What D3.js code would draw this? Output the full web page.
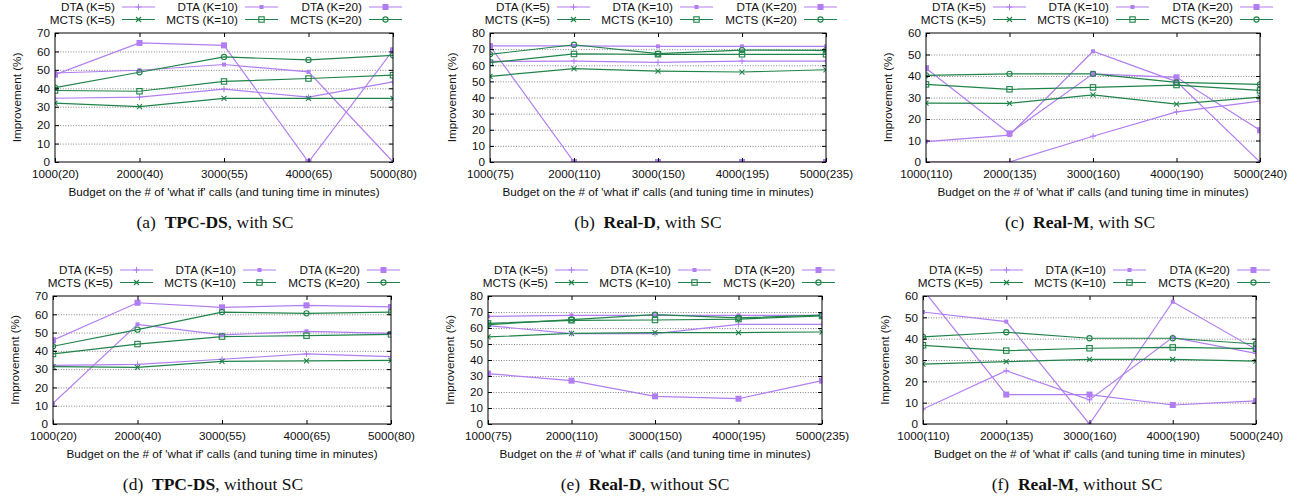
<!DOCTYPE html>
<html>
<head>
<meta charset="utf-8">
<title>Improvement vs what-if budget</title>
<style>
  body { margin: 0; background: #fff; }
  svg text { font-family: "Liberation Sans", Arial, sans-serif; fill: #111; }
  .caption text, text.caption { font-family: "Liberation Serif", "Times New Roman", serif; }
</style>
</head>
<body>
<svg id="svg" width="1299" height="500"></svg>
<script src="https://d3js.org/d3.v7.min.js"></script>
<script>
// ---- data ----
const seriesNames = ["DTA (K=5)", "DTA (K=10)", "DTA (K=20)", "MCTS (K=5)", "MCTS (K=10)", "MCTS (K=20)"]
const budgetsTpcds = ["1000(20)", "2000(40)", "3000(55)", "4000(65)", "5000(80)"]
const budgetsRealD = ["1000(75)", "2000(110)", "3000(150)", "4000(195)", "5000(235)"]
const budgetsRealM = ["1000(110)", "2000(135)", "3000(160)", "4000(190)", "5000(240)"]

// one row per series, in the order of seriesNames
const tpcdsWithSC = [
  [34.6, 35.2, 39.5, 35.2, 43.5],
  [48.3, 49.8, 52.9, 48.9, 0],
  [47.4, 64.6, 63.3, 0, 60.6],
  [31.9, 30.1, 34.5, 34.5, 34.5],
  [38.8, 38.4, 43.7, 45.3, 47.1],
  [40.4, 48.7, 57.0, 55.4, 57.9]
]
const realDWithSC = [
  [62.4, 62.6, 61.8, 62.6, 62.6],
  [72.0, 72.0, 71.7, 71.7, 71.7],
  [71.9, 0, 0, 0, 0],
  [53.1, 57.9, 56.4, 55.8, 57.2],
  [61.6, 67.0, 66.8, 66.8, 66.8],
  [66.8, 72.7, 67.2, 69.4, 69.2]
]
const realMWithSC = [
  [0, 0, 12.0, 23.3, 28.3],
  [9.5, 12.5, 51.5, 37.4, 0],
  [43.6, 13.3, 41.0, 39.4, 14.8],
  [27.4, 27.3, 31.2, 26.9, 30.2],
  [36.1, 33.8, 34.7, 35.8, 33.3],
  [40.3, 41.0, 41.0, 37.0, 36.1]
]
const tpcdsWithoutSC = [
  [32.1, 32.6, 35.4, 38.3, 36.8],
  [11.3, 54.5, 48.7, 50.7, 49.6],
  [45.8, 66.3, 63.8, 64.9, 64.0],
  [31.4, 31.0, 34.3, 34.5, 34.8],
  [38.3, 43.7, 47.8, 48.3, 49.0],
  [42.5, 51.6, 61.2, 60.5, 61.2]
]
const realDWithoutSC = [
  [61.5, 56.5, 56.5, 62.3, 62.3],
  [67.3, 67.9, 67.9, 67.9, 67.9],
  [31.5, 27.1, 17.3, 15.8, 27.1],
  [54.4, 56.7, 57.1, 57.1, 57.5],
  [62.9, 64.8, 65.0, 65.6, 67.5],
  [62.1, 65.2, 68.3, 66.3, 68.1]
]
const realMWithoutSC = [
  [7.0, 25.0, 11.3, 40.6, 33.1],
  [52.5, 48.0, 0, 57.3, 35.0],
  [63.0, 13.8, 13.8, 8.9, 10.8],
  [28.1, 29.2, 30.3, 30.3, 29.5],
  [36.9, 34.4, 35.5, 35.9, 35.3],
  [40.8, 43.0, 40.2, 40.2, 37.5]
]

const yMaxes = [70, 80, 60, 70, 80, 60]
const captionLetters = ["(a)", "(b)", "(c)", "(d)", "(e)", "(f)"]
const captionNames = ["TPC-DS", "Real-D", "Real-M", "TPC-DS", "Real-D", "Real-M"]
const captionRests = [", with SC", ", with SC", ", with SC", ", without SC", ", without SC", ", without SC"]

// ---- layout ----
const panels = [
  { x0: 55, x1: 393, y0: 33, y1: 162, cx: 215, budgets: budgetsTpcds, values: tpcdsWithSC },
  { x0: 490, x1: 826, y0: 33, y1: 162, cx: 648, budgets: budgetsRealD, values: realDWithSC },
  { x0: 926, x1: 1260, y0: 33, y1: 162, cx: 1080, budgets: budgetsRealM, values: realMWithSC },
  { x0: 53, x1: 391, y0: 296, y1: 424, cx: 213, budgets: budgetsTpcds, values: tpcdsWithoutSC },
  { x0: 488, x1: 822, y0: 296, y1: 424, cx: 645, budgets: budgetsRealD, values: realDWithoutSC },
  { x0: 923, x1: 1256, y0: 296, y1: 424, cx: 1077, budgets: budgetsRealM, values: realMWithoutSC }
]

const purple = "#b17df2"
const green = "#1f8449"
const colors = [purple, purple, purple, green, green, green]
const markers = ["plus", "smallsq", "bigsq", "cross", "opensq", "circle"]

const svg = d3.select('#svg')
const fontSize = 11.7

function drawMarker(g, type, x, y, color) {
  if (type === "plus") {
    g.append('path').attr('d', `M${x - 3},${y}H${x + 3}M${x},${y - 3}V${y + 3}`)
      .attr('stroke', color).attr('stroke-width', 1)
  } else if (type === "cross") {
    g.append('path').attr('d', `M${x - 2.5},${y - 2.5}L${x + 2.5},${y + 2.5}M${x - 2.5},${y + 2.5}L${x + 2.5},${y - 2.5}`)
      .attr('stroke', color).attr('stroke-width', 1.1)
  } else if (type === "smallsq") {
    g.append('rect').attr('x', x - 2).attr('y', y - 2).attr('width', 4).attr('height', 4).attr('fill', color)
  } else if (type === "bigsq") {
    g.append('rect').attr('x', x - 3).attr('y', y - 3).attr('width', 6).attr('height', 6).attr('fill', color)
  } else if (type === "opensq") {
    g.append('rect').attr('x', x - 2.7).attr('y', y - 2.7).attr('width', 5.4).attr('height', 5.4)
      .attr('fill', 'none').attr('stroke', color).attr('stroke-width', 1.1)
  } else if (type === "circle") {
    g.append('circle').attr('cx', x).attr('cy', y).attr('r', 2.6)
      .attr('fill', 'none').attr('stroke', color).attr('stroke-width', 1.1)
  }
}

panels.forEach((p, pi) => {
  const g = svg.append('g')
  const xscale = d3.scalePoint().domain(p.budgets).range([p.x0, p.x1])
  const yscale = d3.scaleLinear().domain([0, yMaxes[pi]]).range([p.y1, p.y0])
  const w = p.x1 - p.x0
  const h = p.y1 - p.y0

  // dotted grid
  const gridTicks = yscale.ticks(yMaxes[pi] / 10).filter(t => t > 0 && t < yMaxes[pi])
  g.append('g')
    .attr('transform', `translate(${p.x0},0)`)
    .call(d3.axisLeft(yscale).tickValues(gridTicks).tickSize(-w).tickFormat(''))
    .call(a => a.select('.domain').remove())
    .call(a => a.selectAll('line').attr('stroke', '#666').attr('stroke-width', 0.8).attr('stroke-dasharray', '1,1.6'))

  // clip path for the data
  const clipId = 'clip' + pi
  svg.append('clipPath').attr('id', clipId)
    .append('rect').attr('x', p.x0).attr('y', p.y0).attr('width', w).attr('height', h)

  const line = d3.line().x((d, i) => xscale(p.budgets[i])).y(d => yscale(d))
  const dataG = g.append('g').attr('clip-path', `url(#${clipId})`)
  p.values.forEach((vals, si) => {
    dataG.append('path').datum(vals)
      .attr('d', line)
      .attr('fill', 'none')
      .attr('stroke', colors[si])
      .attr('stroke-width', 1.2)
  })
  p.values.forEach((vals, si) => {
    vals.forEach((v, i) => drawMarker(dataG, markers[si], xscale(p.budgets[i]), yscale(v), colors[si]))
  })

  // border
  g.append('rect').attr('x', p.x0).attr('y', p.y0).attr('width', w).attr('height', h)
    .attr('fill', 'none').attr('stroke', '#000').attr('stroke-width', 1)

  // axes with inward ticks, mirrored
  const styleAxis = a => {
    a.select('.domain').remove()
    a.selectAll('line').attr('stroke', '#000')
    a.selectAll('text').style('font-size', fontSize + 'px').style('font-family', '"Liberation Sans", Arial, sans-serif').attr('fill', '#111')
  }
  g.append('g').attr('transform', `translate(${p.x0},0)`)
    .call(d3.axisLeft(yscale).ticks(yMaxes[pi] / 10).tickSize(-4).tickPadding(5)).call(styleAxis)
  g.append('g').attr('transform', `translate(${p.x1},0)`)
    .call(d3.axisRight(yscale).ticks(yMaxes[pi] / 10).tickSize(-4).tickFormat('')).call(styleAxis)
  g.append('g').attr('transform', `translate(0,${p.y1})`)
    .call(d3.axisBottom(xscale).tickSize(-4).tickPadding(7.5)).call(styleAxis)
  g.append('g').attr('transform', `translate(0,${p.y0})`)
    .call(d3.axisTop(xscale).tickSize(-4).tickFormat('')).call(styleAxis)

  // axis titles
  g.append('text')
    .attr('x', (p.x0 + p.x1) / 2).attr('y', p.y1 + 34)
    .attr('text-anchor', 'middle').style('font-size', fontSize + 'px')
    .text("Budget on the # of 'what if' calls (and tuning time in minutes)")
  g.append('text')
    .attr('transform', `translate(${p.x0 - 34},${(p.y0 + p.y1) / 2}) rotate(-90)`)
    .attr('text-anchor', 'middle').style('font-size', fontSize + 'px')
    .text('Improvement (%)')

  // legend: two rows of three
  const textEnds = [60, 183, 307]
  seriesNames.forEach((name, si) => {
    const col = si % 3
    const row = Math.floor(si / 3)
    const ty = p.y0 - 22 + row * 12.5
    const tx = p.x0 + textEnds[col]
    g.append('text').attr('x', tx).attr('y', ty).attr('text-anchor', 'end')
      .style('font-size', fontSize + 'px').text(name)
    const ly = ty - 4
    g.append('line').attr('x1', tx + 7).attr('x2', tx + 40).attr('y1', ly).attr('y2', ly)
      .attr('stroke', colors[si]).attr('stroke-width', 1.2)
    drawMarker(g, markers[si], tx + 23.5, ly, colors[si])
  })

  // caption
  const cap = g.append('text').attr('class', 'caption')
    .attr('x', p.cx).attr('y', p.y1 + 66).attr('text-anchor', 'middle')
    .style('font-size', '17.5px').attr('xml:space', 'preserve')
  cap.append('tspan').text(captionLetters[pi] + '  ')
  cap.append('tspan').style('font-weight', 'bold').text(captionNames[pi])
  cap.append('tspan').text(captionRests[pi])
})
</script>
</body>
</html>
